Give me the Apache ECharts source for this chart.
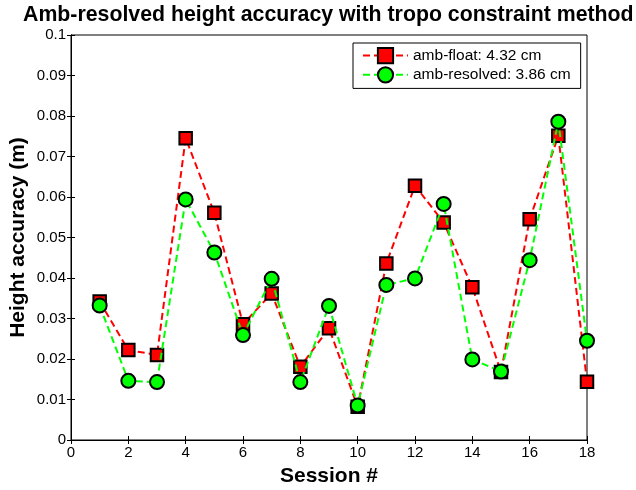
<!DOCTYPE html>
<html>
<head>
<meta charset="utf-8">
<script src="https://cdn.jsdelivr.net/npm/echarts@6/dist/echarts.min.js"></script>
<style>
  html, body { margin: 0; padding: 0; background: #fff; }
  #chart { width: 636px; height: 490px; }
</style>
</head>
<body>
<div id="chart"></div>
<script>
// sessions 1..18
let sessions = [1, 2, 3, 4, 5, 6, 7, 8, 9, 10, 11, 12, 13, 14, 15, 16, 17, 18]
let ambFloat = [0.0342, 0.0222, 0.0210, 0.0745, 0.0561, 0.0286, 0.0362, 0.0181, 0.0276, 0.0082,
                0.0436, 0.0628, 0.0537, 0.0377, 0.0168, 0.0545, 0.0751, 0.0144]
let ambResolved = [0.0332, 0.0146, 0.0143, 0.0594, 0.0463, 0.0259, 0.0398, 0.0143, 0.0331, 0.0085,
                   0.0383, 0.0399, 0.0583, 0.0199, 0.0169, 0.0444, 0.0786, 0.0245]
let seriesNames = ['amb-float: 4.32 cm', 'amb-resolved: 3.86 cm']

let font = '"Liberation Sans", Arial, Helvetica, sans-serif'

function pairs(ys) {
    let arr = []
    for (let i = 0, l = sessions.length; i < l; i++) {
        arr.push([sessions[i], ys[i]])
    }
    return arr
}

let chart = echarts.init(document.getElementById('chart'), null, {renderer: 'canvas'})

// axis box is drawn by the grid border, ticks point inward like matlab
let tickIn = {show: true, inside: true, length: 4, lineStyle: {color: '#000', width: 1}}

let option = {
    backgroundColor: '#fff',
    animation: false,
    title: {
        text: 'Amb-resolved height accuracy with tropo constraint method',
        left: 23,
        top: 5,
        padding: 0,
        textStyle: {fontFamily: font, fontSize: 21.3, fontWeight: 'bold', color: '#000'}
    },
    legend: {
        data: seriesNames,
        orient: 'vertical',
        left: 353,
        top: 43,
        padding: [4, 10, 5, 9],
        itemGap: 2,
        itemWidth: 45,
        itemHeight: 19,
        borderColor: '#000',
        borderWidth: 1,
        backgroundColor: '#fff',
        textStyle: {fontFamily: font, fontSize: 15.5, color: '#000'}
    },
    grid: {
        left: 71,
        right: 49,
        top: 35,
        bottom: 50,
        show: true,
        borderColor: '#000',
        borderWidth: 1,
        containLabel: false,
        outerBoundsMode: 'none'
    },
    xAxis: [{
        type: 'value',
        min: 0,
        max: 18,
        interval: 2,
        name: 'Session #',
        nameLocation: 'middle',
        nameGap: 26,
        nameMoveOverlap: false,
        nameTextStyle: {fontFamily: font, fontSize: 21, fontWeight: 'bold', color: '#000'},
        axisLine: {show: true, lineStyle: {color: '#000', width: 1}},
        axisTick: tickIn,
        axisLabel: {fontFamily: font, fontSize: 15, color: '#000', margin: 5},
        splitLine: {show: false}
    }, {
        type: 'value',
        position: 'top',
        min: 0,
        max: 18,
        interval: 2,
        axisLine: {show: true, lineStyle: {color: '#000', width: 1}},
        axisTick: tickIn,
        axisLabel: {show: false},
        splitLine: {show: false}
    }],
    yAxis: [{
        type: 'value',
        min: 0,
        max: 0.1,
        interval: 0.01,
        name: 'Height accuracy (m)',
        nameLocation: 'middle',
        nameGap: 42,
        nameMoveOverlap: false,
        nameTextStyle: {fontFamily: font, fontSize: 21, fontWeight: 'bold', color: '#000'},
        axisLine: {show: true, lineStyle: {color: '#000', width: 1}},
        axisTick: tickIn,
        axisLabel: {
            fontFamily: font, fontSize: 15, color: '#000', margin: 5,
            formatter: v => String(+v.toFixed(2))
        },
        splitLine: {show: false}
    }, {
        type: 'value',
        position: 'right',
        min: 0,
        max: 0.1,
        interval: 0.01,
        axisLine: {show: true, lineStyle: {color: '#000', width: 1}},
        axisTick: tickIn,
        axisLabel: {show: false},
        splitLine: {show: false}
    }],
    series: [{
        name: seriesNames[0],
        type: 'line',
        data: pairs(ambFloat),
        symbol: 'rect',
        symbolSize: 12.5,
        showAllSymbol: true,
        lineStyle: {color: '#ff0000', width: 2, type: [7, 4]},
        itemStyle: {color: '#ff0000', borderColor: '#000', borderWidth: 2},
        z: 2
    }, {
        name: seriesNames[1],
        type: 'line',
        data: pairs(ambResolved),
        symbol: 'circle',
        symbolSize: 14,
        showAllSymbol: true,
        lineStyle: {color: '#00ff00', width: 2, type: [7, 4]},
        itemStyle: {color: '#00ff00', borderColor: '#000', borderWidth: 2},
        z: 3
    }]
}

chart.setOption(option)
</script>
</body>
</html>
